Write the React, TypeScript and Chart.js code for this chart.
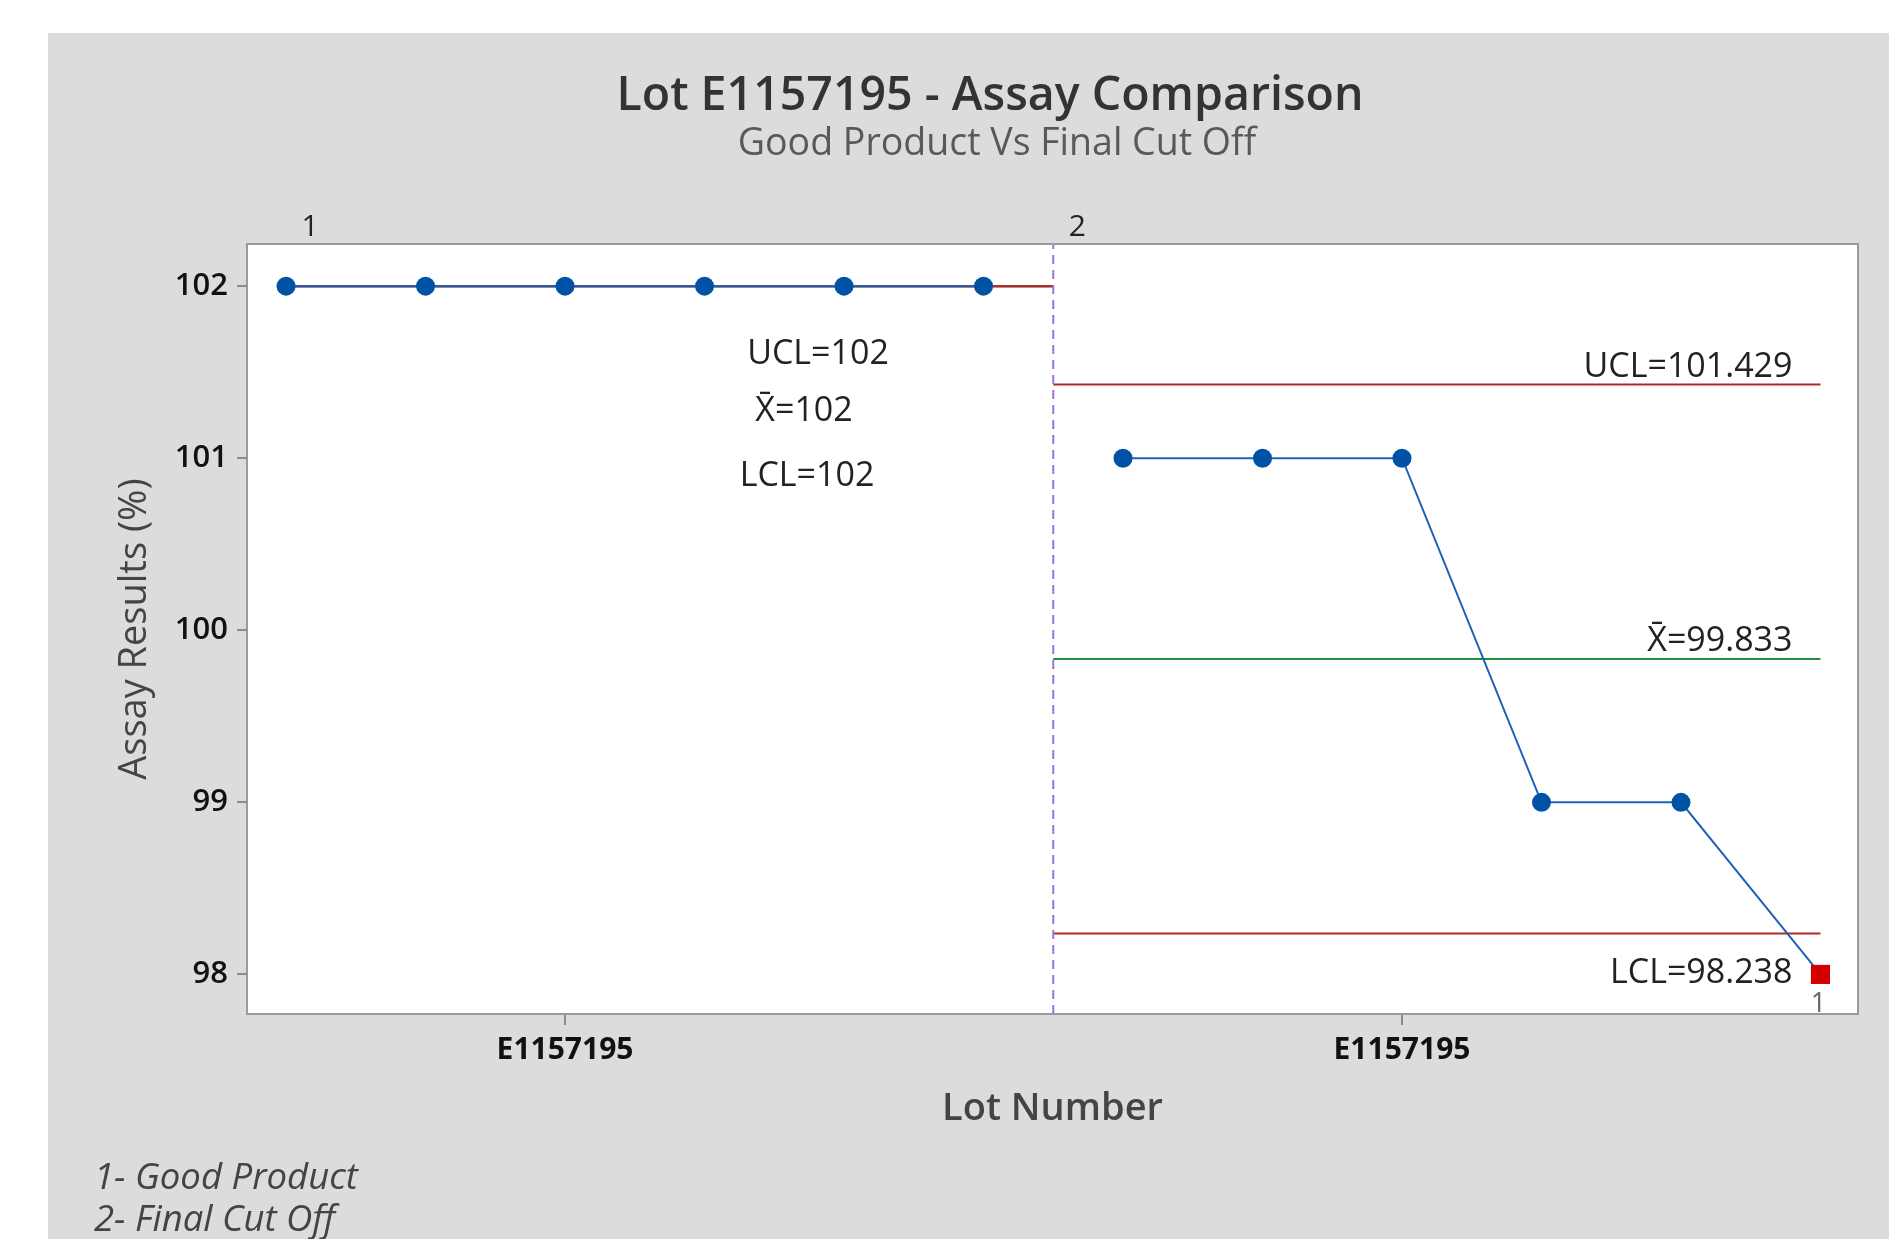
import React, { useEffect, useRef } from "react";
import { Chart, registerables } from "chart.js";

Chart.register(...registerables);

// ---------- data ----------
const chartTitle = "Lot E1157195 - Assay Comparison";
const chartSubtitle = "Good Product Vs Final Cut Off";
const xAxisTitle = "Lot Number";
const yAxisTitle = "Assay Results (%)";
const lotLabels = ["E1157195", "E1157195"];
const lotTickPositions = [3, 9];
const stageNumbers = ["1", "2"];
const stageNotes = ["1- Good Product", "2- Final Cut Off"];
const sampleIndex = [1, 2, 3, 4, 5, 6, 7, 8, 9, 10, 11, 12];
const sampleStage = [0, 0, 0, 0, 0, 0, 1, 1, 1, 1, 1, 1];
const assayValues = [102, 102, 102, 102, 102, 102, 101, 101, 101, 99, 99, 98];
const failedTest = [0, 0, 0, 0, 0, 0, 0, 0, 0, 0, 0, 1];
const stageStart = [1, 6.5];
const stageEnd = [6.5, 12];
const uclValues = [102, 101.429];
const meanValues = [102, 99.833];
const lclValues = [102, 98.238];
const yTickValues = [98, 99, 100, 101, 102];
const xMin = 0.72;
const xMax = 12.269;
const yMin = 97.77;
const yMax = 102.245;

const FONT = "'Open Sans', 'Noto Sans', sans-serif";
const RED = "#b02a2a";
const GREEN = "#1f8f3a";
const BLUE_LINE = "#1c63b8";
const BLUE_MARK = "#0052a5";
const PURPLE = "#9a74de";

const fmt = (v: number) => String(v);

export default function App() {
  const ref = useRef<HTMLCanvasElement | null>(null);

  useEffect(() => {
    const canvas = ref.current;
    if (!canvas) return;

    const datasets: any[] = [];
    // assay data, one line per stage
    stageStart.forEach((_, k) => {
      const idx = sampleIndex.map((_, i) => i).filter((i) => sampleStage[i] === k);
      datasets.push({
        label: "Assay" + k,
        data: idx.map((i) => ({ x: sampleIndex[i], y: assayValues[i] })),
        borderColor: BLUE_LINE,
        borderWidth: 2,
        pointStyle: idx.map((i) => (failedTest[i] ? "rect" : "circle")),
        pointRadius: idx.map((i) => (failedTest[i] ? 13.5 : 9.5)),
        pointBackgroundColor: idx.map((i) => (failedTest[i] ? "#d40000" : BLUE_MARK)),
        pointBorderColor: idx.map((i) => (failedTest[i] ? "#d40000" : BLUE_MARK)),
        pointBorderWidth: 0,
        order: 0,
      });
    });
    stageStart.forEach((s, k) => {
      const e = stageEnd[k];
      datasets.push({
        label: "UCL" + k,
        data: [{ x: s, y: uclValues[k] }, { x: e, y: uclValues[k] }],
        borderColor: RED,
        borderWidth: 2,
        pointRadius: 0,
        order: 2,
      });
      datasets.push({
        label: "LCL" + k,
        data: [{ x: s, y: lclValues[k] }, { x: e, y: lclValues[k] }],
        borderColor: RED,
        borderWidth: 2,
        pointRadius: 0,
        order: 2,
      });
      datasets.push({
        label: "Mean" + k,
        data: [{ x: s, y: meanValues[k] }, { x: e, y: meanValues[k] }],
        borderColor: GREEN,
        borderWidth: 2,
        pointRadius: 0,
        order: 3,
      });
    });
    // stage boundary
    stageStart.slice(1).forEach((s) => {
      datasets.push({
        label: "Stage",
        data: [{ x: s, y: yMin }, { x: s, y: yMax }],
        borderColor: PURPLE,
        borderWidth: 2,
        borderDash: [9, 6],
        pointRadius: 0,
        order: 1,
      });
    });

    const deco = {
      id: "deco",
      beforeDraw(chart: any) {
        const { ctx, chartArea: ca, width, height } = chart;
        ctx.save();
        ctx.fillStyle = "#ffffff";
        ctx.fillRect(0, 0, width, height);
        ctx.fillStyle = "#dcdcdc";
        ctx.fillRect(48, 33, width - 48, height - 33);
        ctx.fillStyle = "#ffffff";
        ctx.fillRect(ca.left, ca.top, ca.right - ca.left, ca.bottom - ca.top);
        ctx.restore();
      },
      afterDraw(chart: any) {
        const { ctx, chartArea: ca } = chart;
        const xs = chart.scales.x;
        const ys = chart.scales.y;
        ctx.save();
        // frame
        ctx.strokeStyle = "#9a9a9a";
        ctx.lineWidth = 2;
        ctx.strokeRect(ca.left, ca.top, ca.right - ca.left, ca.bottom - ca.top);

        // titles
        ctx.textAlign = "center";
        ctx.textBaseline = "middle";
        ctx.fillStyle = "#333333";
        ctx.font = `600 46.5px ${FONT}`;
        ctx.fillText(chartTitle, 990, 97);
        ctx.fillStyle = "#595959";
        ctx.font = `37.5px ${FONT}`;
        ctx.fillText(chartSubtitle, 997, 144);

        // stage numbers
        ctx.fillStyle = "#222222";
        ctx.font = `30px ${FONT}`;
        stageNumbers.forEach((n, k) => {
          ctx.fillText(n, xs.getPixelForValue(stageStart[k]) + 24, 227);
        });

        // stage 1 labels
        ctx.font = `34px ${FONT}`;
        ctx.fillStyle = "#222222";
        ctx.fillText("UCL=" + fmt(uclValues[0]), 818, 354);
        ctx.fillText("X\u0304=" + fmt(meanValues[0]), 804, 411);
        ctx.fillText("LCL=" + fmt(lclValues[0]), 807, 476);

        // stage 2 labels
        const rx = xs.getPixelForValue(stageEnd[1]) - 28;
        ctx.textAlign = "right";
        ctx.fillText("UCL=" + fmt(uclValues[1]), rx, ys.getPixelForValue(uclValues[1]) - 17);
        ctx.fillText("X\u0304=" + fmt(meanValues[1]), rx, ys.getPixelForValue(meanValues[1]) - 18);
        ctx.fillText("LCL=" + fmt(lclValues[1]), rx, ys.getPixelForValue(lclValues[1]) + 40);

        // failed test marker label
        ctx.textAlign = "center";
        ctx.fillStyle = "#666666";
        ctx.font = `27px ${FONT}`;
        failedTest.forEach((f, i) => {
          if (f) {
            ctx.fillText(String(f), xs.getPixelForValue(sampleIndex[i]) - 2, ys.getPixelForValue(assayValues[i]) + 30);
          }
        });

        // footnotes
        ctx.textAlign = "left";
        ctx.fillStyle = "#444444";
        ctx.font = `italic 36.5px ${FONT}`;
        stageNotes.forEach((t, k) => {
          ctx.fillText(t, 94, 1179 + k * 42);
        });
        ctx.restore();
      },
    };

    const chart = new Chart(canvas, {
      type: "line",
      data: { datasets },
      options: {
        animation: false,
        responsive: false,
        events: [],
        layout: { padding: { top: 244, right: 31, left: 0, bottom: 0 } },
        plugins: { legend: { display: false }, tooltip: { enabled: false }, title: { display: false } },
        scales: {
          x: {
            type: "linear",
            min: xMin,
            max: xMax,
            afterFit: (s: any) => {
              s.height = 225;
            },
            afterBuildTicks: (s: any) => {
              s.ticks = lotTickPositions.map((v) => ({ value: v }));
            },
            grid: { drawOnChartArea: false, drawTicks: true, tickLength: 11, color: "#8a8a8a", lineWidth: 2 },
            border: { display: false },
            ticks: {
              autoSkip: false,
              maxRotation: 0,
              padding: 7,
              color: "#111111",
              font: { family: FONT, size: 30, weight: "bold" },
              callback: (v: any) => {
                const idx = lotTickPositions.indexOf(Number(v));
                return idx >= 0 ? lotLabels[idx] : "";
              },
            },
            title: {
              display: true,
              text: xAxisTitle,
              color: "#444444",
              font: { family: FONT, size: 38, weight: "600" },
              padding: { top: 0, bottom: 107 },
            },
          },
          y: {
            type: "linear",
            min: yMin,
            max: yMax,
            afterFit: (s: any) => {
              s.width = 247;
            },
            afterBuildTicks: (s: any) => {
              s.ticks = yTickValues.map((v) => ({ value: v }));
            },
            grid: { drawOnChartArea: false, drawTicks: true, tickLength: 10, color: "#8a8a8a", lineWidth: 2 },
            border: { display: false },
            ticks: {
              padding: 9,
              color: "#111111",
              font: { family: FONT, size: 31, weight: "600" },
              callback: (v: any) => String(v),
            },
            title: {
              display: true,
              text: yAxisTitle,
              color: "#444444",
              font: { family: FONT, size: 38 },
              padding: { top: 112, bottom: 0 },
            },
          },
        },
      },
      plugins: [deco],
    });

    return () => chart.destroy();
  }, []);

  return (
    <div style={{ position: "absolute", left: 0, top: 0, width: 1889, height: 1239 }}>
      <canvas ref={ref} width={1889} height={1239} style={{ display: "block" }} />
    </div>
  );
}
